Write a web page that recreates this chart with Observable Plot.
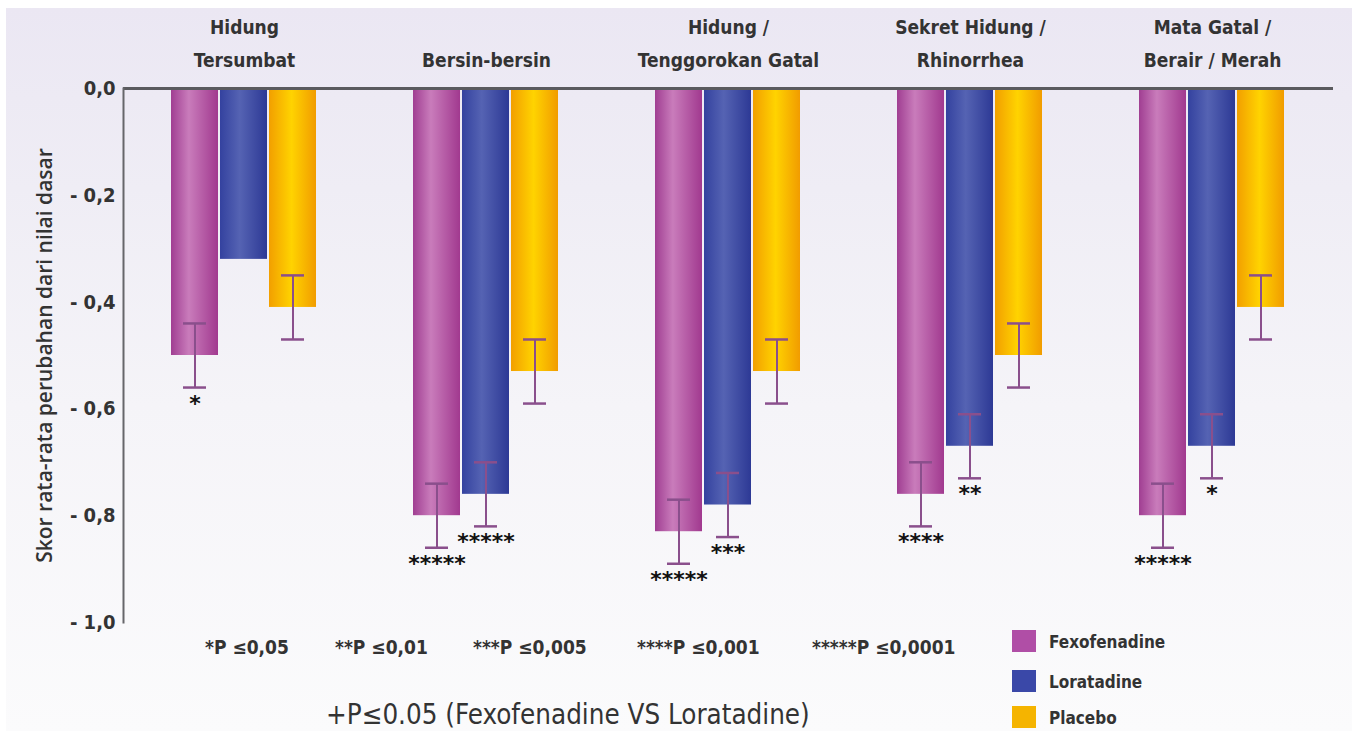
<!DOCTYPE html>
<html>
<head>
<meta charset="utf-8">
<script src="https://cdn.jsdelivr.net/npm/d3@7"></script>
<script src="https://cdn.jsdelivr.net/npm/@observablehq/plot@0.6"></script>
<style>
  html, body { margin: 0; padding: 0; background: #ffffff; }
  #wrap { position: relative; width: 1360px; height: 731px; overflow: hidden;
          font-family: "Liberation Sans Narrow", "DejaVu Sans Condensed", "Liberation Sans", sans-serif; color: #333; }
  #panel { position: absolute; left: 6px; top: 8px; width: 1346px; height: 723px;
           background: linear-gradient(to bottom, #ebe7f3 0%, #efedf5 25%, #f5f4f8 55%, #fbfbfc 100%); }
  #chart { position: absolute; left: 0; top: 0; }
  #bottom { position: absolute; left: 0; top: 628px; width: 1360px; height: 103px; }
  .fn { position: absolute; top: 8px; font-size: 19px; font-weight: bold; color: #333; white-space: nowrap; }
  .note { position: absolute; left: 326px; top: 73px; font-size: 27.5px; line-height: 1; color: #333; white-space: nowrap; }
  .lg { position: absolute; left: 1012px; display: flex; align-items: flex-end; font-size: 17px; font-weight: bold; color: #333; }
  .sw { width: 24px; height: 22px; margin-right: 13px; }
</style>
</head>
<body>
<div id="wrap">
  <div id="panel"></div>
  <div id="chart"></div>
  <div id="bottom"></div>
</div>
<script>
// ---- data ----
const groups = ["Hidung\nTersumbat", "Bersin-bersin", "Hidung /\nTenggorokan Gatal", "Sekret Hidung /\nRhinorrhea", "Mata Gatal /\nBerair / Merah"];
const drugs = ["Fexofenadine", "Loratadine", "Placebo"];
const fexo = [-0.50, -0.80, -0.83, -0.76, -0.80];
const lora = [-0.32, -0.76, -0.78, -0.67, -0.67];
const plac = [-0.41, -0.53, -0.53, -0.50, -0.41];
const fexoErr = [0.06, 0.06, 0.06, 0.06, 0.06];
const loraErr = [null, 0.06, 0.06, 0.06, 0.06];
const placErr = [0.06, 0.06, 0.06, 0.06, 0.06];
const fexoStars = ["*", "*****", "*****", "****", "*****"];
const loraStars = ["", "*****", "***", "**", "*"];
const placStars = ["", "", "", "", ""];
const yTicks = [0, -0.2, -0.4, -0.6, -0.8, -1.0];
const yLabel = "Skor rata-rata perubahan dari nilai dasar";
const footnotes = ["*P ≤0,05", "**P ≤0,01", "***P ≤0,005", "****P ≤0,001", "*****P ≤0,0001"];
const note = "+P≤0.05 (Fexofenadine VS Loratadine)";
const legendColors = ["#b04ea6", "#3a48a8", "#f5b400"];

// ---- table ----
const series = [[fexo, fexoErr, fexoStars], [lora, loraErr, loraStars], [plac, placErr, placStars]];
const rows = groups.flatMap((g, i) => drugs.map((d, j) => ({
  group: g, drug: d, value: series[j][0][i], err: series[j][1][i], stars: series[j][2][i]
})));
const withErr = rows.filter(r => r.err != null);

const fmt = d => d === 0 ? "0,0" : "- " + Math.abs(d).toFixed(1).replace(".", ",");
const errColor = "#8a4f8c";

const chart = Plot.plot({
  width: 1360,
  height: 640,
  marginTop: 88,
  marginBottom: 18,
  marginLeft: 122,
  marginRight: 26,
  style: { background: "transparent", fontFamily: "'Liberation Sans Narrow', 'DejaVu Sans Condensed', sans-serif", color: "#333" },
  fx: { domain: groups, padding: 0, axis: null, label: null },
  x: { domain: drugs, paddingInner: 0.04, paddingOuter: 0.95, axis: null },
  y: { domain: [-1, 0], axis: null },
  color: { domain: drugs, range: ["url(#gFexo)", "url(#gLora)", "url(#gPlac)"] },
  marks: [
    Plot.barY(rows, { fx: "group", x: "drug", y: "value", fill: "drug" }),
    Plot.ruleX(withErr, { fx: "group", x: "drug", y1: d => d.value - d.err, y2: d => d.value + d.err, stroke: errColor, strokeWidth: 2 }),
    Plot.tickY(withErr, { fx: "group", x: "drug", y: d => d.value - d.err, stroke: errColor, strokeWidth: 2.5, insetLeft: 12, insetRight: 12 }),
    Plot.tickY(withErr, { fx: "group", x: "drug", y: d => d.value + d.err, stroke: errColor, strokeWidth: 2.5, insetLeft: 12, insetRight: 12 }),
    Plot.ruleY([0], { stroke: "#5a5a5e", strokeWidth: 3 }),
    Plot.frame({ anchor: "left", facetAnchor: "left", stroke: "#66666a", strokeWidth: 2 }),
    Plot.text(withErr.filter(d => d.stars), { fx: "group", x: "drug", y: d => d.value - d.err, text: "stars",
      dy: 16, fontSize: 22, fontWeight: "bold", fill: "#111", fontFamily: "DejaVu Sans" }),
    Plot.axisFx({ anchor: "top", tickSize: 0, tickPadding: 22, fontSize: 19, fontWeight: "bold", lineHeight: 1.7, label: null }),
    Plot.axisY({ ticks: yTicks, tickSize: 0, tickPadding: 8, tickFormat: fmt, fontSize: 20, fontWeight: "bold", label: null }),
    Plot.axisY({ ticks: [], label: yLabel, labelAnchor: "center", labelArrow: "none", labelOffset: 86,
      fontSize: 21, fontWeight: 600, fontFamily: "'Open Sans', 'DejaVu Sans', sans-serif" })
  ]
});

// gradient definitions for the cylindrical bar shading
const defs = d3.select(chart).insert("defs", ":first-child");
const grads = [
  ["gFexo", [["0%", "#a03e92"], ["38%", "#c97cbb"], ["100%", "#a1398f"]]],
  ["gLora", [["0%", "#34429f"], ["42%", "#5563b3"], ["100%", "#2d3995"]]],
  ["gPlac", [["0%", "#f29f00"], ["48%", "#ffd300"], ["100%", "#f19c00"]]]
];
for (const [id, stops] of grads) {
  const lg = defs.append("linearGradient").attr("id", id).attr("x1", "0").attr("x2", "1").attr("y1", "0").attr("y2", "0");
  for (const [o, c] of stops) lg.append("stop").attr("offset", o).attr("stop-color", c);
}
document.getElementById("chart").appendChild(chart);

// ---- footnotes & legend ----
const bottom = document.getElementById("bottom");
const fnLeft = [205, 335, 473, 637, 812];
footnotes.forEach((t, i) => {
  const el = document.createElement("div");
  el.className = "fn"; el.style.left = fnLeft[i] + "px"; el.textContent = t;
  bottom.appendChild(el);
});
const noteEl = document.createElement("div");
noteEl.className = "note"; noteEl.textContent = note; bottom.appendChild(noteEl);
const lgTop = [2, 42, 78];
drugs.forEach((d, i) => {
  const el = document.createElement("div");
  el.className = "lg"; el.style.top = lgTop[i] + "px";
  const sw = document.createElement("div"); sw.className = "sw"; sw.style.background = legendColors[i];
  const tx = document.createElement("span"); tx.textContent = d;
  el.appendChild(sw); el.appendChild(tx);
  bottom.appendChild(el);
});
</script>
</body>
</html>
